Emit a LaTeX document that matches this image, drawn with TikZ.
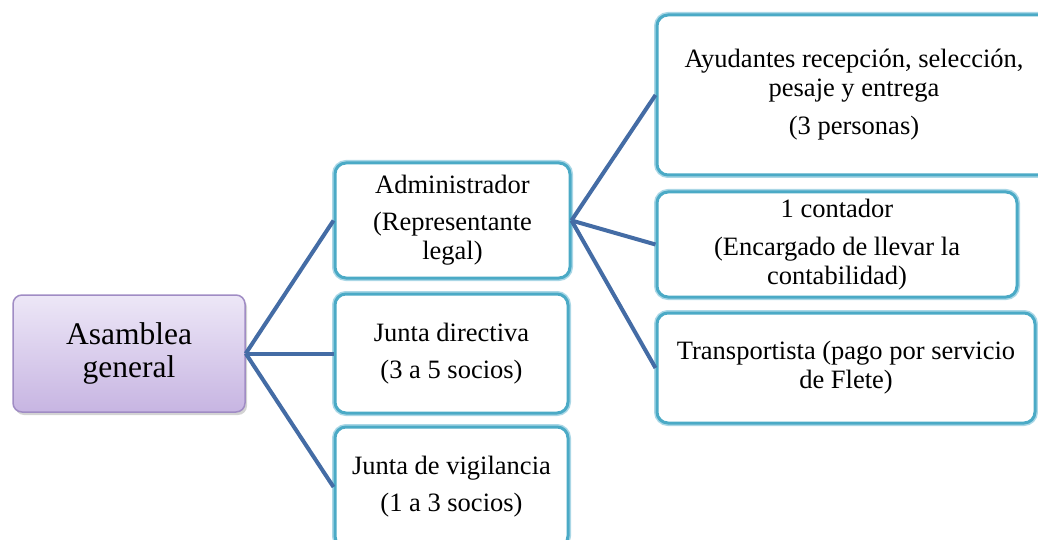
\documentclass[tikz,border=0pt]{standalone}
\usepackage{fontspec}
\setmainfont{Liberation Serif}
\usetikzlibrary{shadows}
\definecolor{conn}{RGB}{68,108,165}
\definecolor{tealb}{RGB}{75,170,198}
\definecolor{teall}{RGB}{170,215,230}
\definecolor{purtop}{RGB}{237,231,247}
\definecolor{purbot}{RGB}{199,181,226}
\definecolor{purbd}{RGB}{160,140,196}
\tikzset{
  box/.style={draw=tealb, line width=3pt, rounded corners=11pt, fill=white,
    preaction={draw=teall, line width=6pt},
    inner sep=0pt, align=center, font=\fontsize{26.5}{29}\selectfont},
  rootbox/.style={draw=purbd, line width=1.5pt, rounded corners=9pt,
    top color=purtop, bottom color=purbot,
    drop shadow={opacity=0.35, shadow xshift=2pt, shadow yshift=-3pt},
    inner sep=0pt, align=center, font=\fontsize{31.5}{33}\selectfont},
  link/.style={draw=conn, line width=4pt}
}
\begin{document}
\begin{tikzpicture}[x=1pt,y=-1pt]
\useasboundingbox (0,0) rectangle (1038,540);
\node[rootbox, minimum width=232pt, minimum height=117pt] (asam) at (129,353.5) {Asamblea\\general};
\node[box, minimum width=235pt, minimum height=115pt] (admin) at (452.5,220.5) {Administrador\\[8pt](Representante\\legal)};
\node[box, minimum width=233pt, minimum height=119pt] (direc) at (451.5,353.5) {Junta directiva\\[8pt](3 a 5 socios)};
\node[box, minimum width=233pt, minimum height=120pt] (vigil) at (451.5,487) {Junta de vigilancia\\[8pt](1 a 3 socios)};
\node[box, minimum width=394pt, minimum height=160pt] (ayud) at (854,95) {Ayudantes recepción, selección,\\pesaje y entrega\\[9pt](3 personas)};
\node[box, minimum width=360pt, minimum height=105pt] (conta) at (837,244.5) {1 contador\\[9pt](Encargado de llevar la\\contabilidad)};
\node[box, minimum width=378pt, minimum height=110pt] (trans) at (846,368) {Transportista (pago por servicio\\de Flete)};
\draw[link] (asam.east) -- (admin.west);
\draw[link] (asam.east) -- (direc.west);
\draw[link] (asam.east) -- (vigil.west);
\draw[link] (admin.east) -- (ayud.west);
\draw[link] (admin.east) -- (conta.west);
\draw[link] (admin.east) -- (trans.west);
\end{tikzpicture}
\end{document}
